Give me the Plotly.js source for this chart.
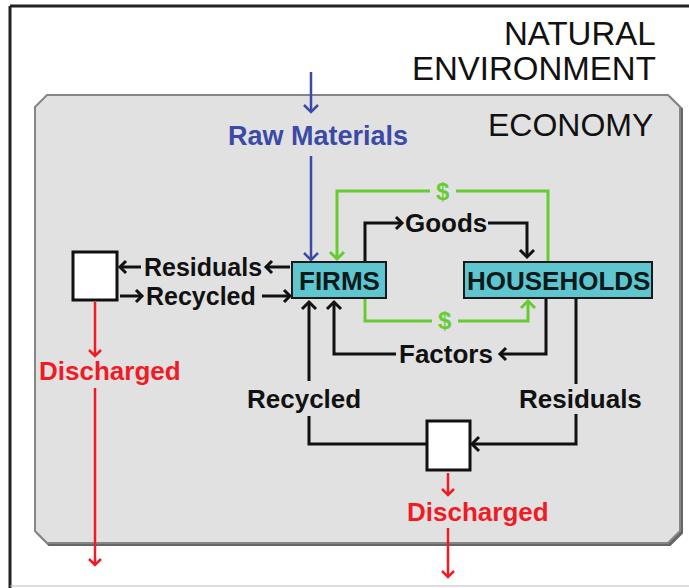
<!DOCTYPE html>
<html>
<head>
<meta charset="utf-8">
<script src="https://cdn.plot.ly/plotly-3.0.1.min.js"></script>
<style>html,body{margin:0;padding:0;background:#fff;}#chart{width:689px;height:588px;}</style>
</head>
<body>
<div id="chart"></div>
<script>
// ---- content ----
const titleLines = ['NATURAL', 'ENVIRONMENT'];
const economyLabel = 'ECONOMY';
const nodeNames = ['FIRMS', 'HOUSEHOLDS'];
const circularFlowLabels = ['Goods', 'Factors', '$', '$'];
const inputLabel = 'Raw Materials';
const residualLabels = ['Residuals', 'Residuals'];
const recycledLabels = ['Recycled', 'Recycled'];
const dischargeLabels = ['Discharged', 'Discharged'];

// ---- geometry (diagram coordinates, pixel-like) ----
const G = {
  economy: [35, 95, 680, 543],
  firms: [292, 262, 386, 298],
  households: [464, 262, 652, 298],
  leftBin: [73, 252, 117, 300],
  bottomBin: [427, 421, 470, 470]
};

const BLACK = '#111111', GREEN = '#66cc33', BLUE = '#3a4aa6', RED = '#ee1c25', CYAN = '#5fc6cf';
const SANS = 'Liberation Sans, Arial, sans-serif';
const shapes = [];
const annotations = [];

function rect(b, fill, line, w) {
  shapes.push({type: 'rect', xref: 'x', yref: 'y', x0: b[0], y0: b[1], x1: b[2], y1: b[3],
    fillcolor: fill, line: {color: line, width: w}});
}
function chamfer(b, c, fill, line, w) {
  const [x0, y0, x1, y1] = b;
  const p = `M${x0 + c},${y0} L${x1 - c},${y0} L${x1},${y0 + c} L${x1},${y1 - c} L${x1 - c},${y1} L${x0 + c},${y1} L${x0},${y1 - c} L${x0},${y0 + c} Z`;
  shapes.push({type: 'path', xref: 'x', yref: 'y', path: p, fillcolor: fill, line: {color: line, width: w}});
}
function polyline(pts, color, w, head, hs) {
  let p = 'M' + pts.map(q => q[0] + ',' + q[1]).join(' L');
  shapes.push({type: 'path', xref: 'x', yref: 'y', path: p, line: {color: color, width: w}});
  if (head) {
    const a = pts[pts.length - 2], b = pts[pts.length - 1];
    let dx = b[0] - a[0], dy = b[1] - a[1];
    const L = Math.hypot(dx, dy); dx /= L; dy /= L;
    const s = hs || 7;
    const px = -dy, py = dx;
    const hp = `M${b[0] - s * dx + s * px},${b[1] - s * dy + s * py} L${b[0]},${b[1]} L${b[0] - s * dx - s * px},${b[1] - s * dy - s * py}`;
    shapes.push({type: 'path', xref: 'x', yref: 'y', path: hp, line: {color: color, width: w}});
  }
}
function label(x, y, text, color, size, anchor) {
  annotations.push({x: x, y: y, xref: 'x', yref: 'y', text: text, showarrow: false,
    xanchor: anchor || 'center', yanchor: 'middle',
    font: {family: SANS, size: size, color: color}});
}
const B = t => '<b>' + t + '</b>';

// frame
shapes.push({type: 'line', xref: 'x', yref: 'y', x0: 10, y0: 6, x1: 10, y1: 588, line: {color: '#222', width: 3}});
shapes.push({type: 'line', xref: 'x', yref: 'y', x0: 10, y0: 6, x1: 689, y1: 6, line: {color: '#222', width: 3}});
shapes.push({type: 'line', xref: 'x', yref: 'y', x0: 10, y0: 586, x1: 689, y1: 586, line: {color: '#bbbbbb', width: 1}});

// economy box with shadow
chamfer([G.economy[0] + 2, G.economy[1] + 2, G.economy[2] + 2, G.economy[3] + 2], 12, '#666666', '#666666', 2);
chamfer(G.economy, 12, '#e1e1e1', '#858585', 2);

// titles
label(658, 33, titleLines[0], BLACK, 33, 'right');
label(658, 68, titleLines[1], BLACK, 33, 'right');
label(655, 125, economyLabel, BLACK, 32, 'right');

// raw materials (blue)
polyline([[311, 72], [311, 112]], BLUE, 2.5, true, 7);
label(318, 136, B(inputLabel), BLUE, 27);
polyline([[311, 156], [311, 260]], BLUE, 2.5, true, 7);

// green money flows
polyline([[548, 262], [548, 191], [456, 191]], GREEN, 3, false);
polyline([[430, 191], [337, 191], [337, 259]], GREEN, 3, true, 7);
label(443, 191, B(circularFlowLabels[2]), GREEN, 24);
polyline([[365, 298], [365, 321], [432, 321]], GREEN, 3, false);
polyline([[458, 321], [528, 321], [528, 301]], GREEN, 3, true, 7);
label(445, 320, B(circularFlowLabels[3]), GREEN, 24);

// goods
polyline([[365, 262], [365, 223], [402, 223]], BLACK, 3, true, 6);
label(446, 223, B(circularFlowLabels[0]), BLACK, 26);
polyline([[488, 223], [527, 223], [527, 257]], BLACK, 3, true, 7);

// factors
polyline([[546, 298], [546, 354], [500, 354]], BLACK, 3, true, 6);
label(446, 354, B(circularFlowLabels[1]), BLACK, 26);
polyline([[396, 354], [334, 354], [334, 302]], BLACK, 3, true, 7);

// nodes
rect(G.firms, CYAN, '#1a1a1a', 2);
rect(G.households, CYAN, '#1a1a1a', 2);
label((G.firms[0] + G.firms[2]) / 2, 281, B(nodeNames[0]), '#0a1a1a', 26);
label((G.households[0] + G.households[2]) / 2, 281, B(nodeNames[1]), '#0a1a1a', 26);

// left side residuals / recycled
rect(G.leftBin, '#ffffff', BLACK, 3);
polyline([[141, 267], [120, 267]], BLACK, 3, true, 6);
label(203, 267, B(residualLabels[0]), BLACK, 25);
polyline([[290, 267], [266, 267]], BLACK, 3, true, 6);
polyline([[120, 296], [142, 296]], BLACK, 3, true, 6);
label(201, 296, B(recycledLabels[0]), BLACK, 25);
polyline([[262, 296], [290, 296]], BLACK, 3, true, 6);

// left discharge
polyline([[95, 302], [95, 356]], RED, 2.5, true, 6);
label(110, 371, B(dischargeLabels[0]), RED, 26);
polyline([[95, 388], [95, 565]], RED, 2.5, true, 6);

// bottom recycle / residuals
rect(G.bottomBin, '#ffffff', BLACK, 3);
polyline([[309, 381], [309, 302]], BLACK, 3, true, 7);
label(304, 399, B(recycledLabels[1]), BLACK, 26);
polyline([[309, 416], [309, 444], [427, 444]], BLACK, 3, false);
polyline([[576, 298], [576, 384]], BLACK, 3, false);
label(580, 399, B(residualLabels[1]), BLACK, 26);
polyline([[576, 414], [576, 444], [472, 444]], BLACK, 3, true, 7);

// bottom discharge
polyline([[448, 473], [448, 495]], RED, 2.5, true, 6);
label(478, 512, B(dischargeLabels[1]), RED, 26);
polyline([[448, 528], [448, 577]], RED, 2.5, true, 6);

const layout = {
  width: 689, height: 588,
  margin: {l: 0, r: 0, t: 0, b: 0},
  paper_bgcolor: '#ffffff', plot_bgcolor: '#ffffff',
  xaxis: {range: [0, 689], visible: false, fixedrange: true},
  yaxis: {range: [588, 0], visible: false, fixedrange: true},
  showlegend: false,
  shapes: shapes,
  annotations: annotations
};
Plotly.newPlot('chart', [{x: [], y: [], type: 'scatter', mode: 'markers'}], layout, {staticPlot: true, displayModeBar: false});
</script>
</body>
</html>
